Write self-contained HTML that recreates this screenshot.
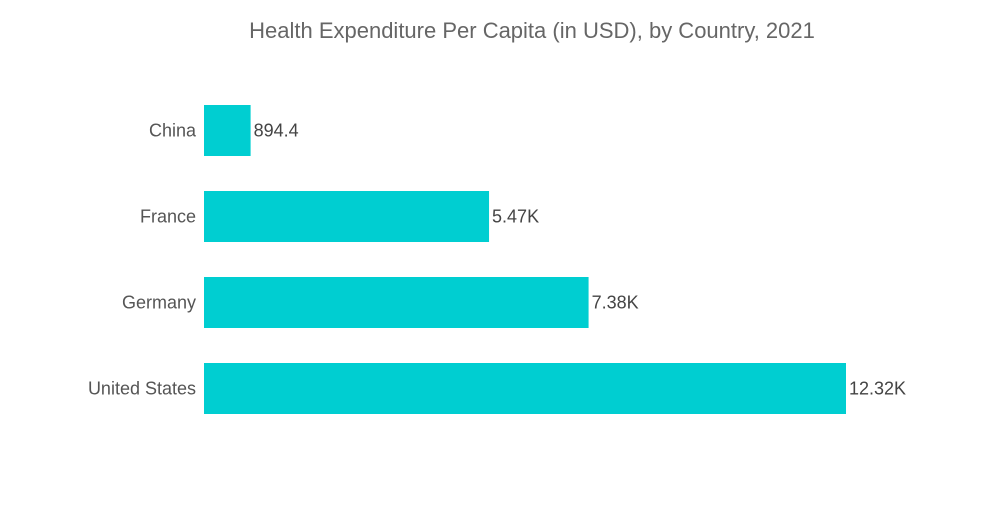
<!DOCTYPE html>
<html><head><meta charset="utf-8"><style>
body{margin:0;background:#fff;font-family:"Liberation Sans",sans-serif}
</style></head><body>
<svg id="chart" width="1000" height="504">
<rect width="1000" height="504" fill="#fff"/>
<text x="532" y="38" text-anchor="middle" font-size="22" fill="#666">Health Expenditure Per Capita (in USD), by Country, 2021</text>
<g id="bars"></g>
</svg>
<script>
const categories = ["China","France","Germany","United States"];
const values = [894.4, 5470, 7380, 12320];
const valueLabels = ["894.4","5.47K","7.38K","12.32K"];
const x0 = 204, xScale = v => x0 + v * (642/12320);
const y0 = 105, band = 86, barH = 51;
const g = document.getElementById('bars');
const ns = "http://www.w3.org/2000/svg";
categories.forEach((c,i)=>{
  const y = y0 + i*band;
  const r = document.createElementNS(ns,'rect');
  r.setAttribute('x',x0); r.setAttribute('y',y);
  r.setAttribute('width',xScale(values[i])-x0); r.setAttribute('height',barH);
  r.setAttribute('fill','#00CED1');
  
  
  g.appendChild(r);
  const t = document.createElementNS(ns,'text');
  t.setAttribute('x',196); t.setAttribute('y',y+barH/2+6);
  t.setAttribute('text-anchor','end'); t.setAttribute('font-size','18'); t.setAttribute('fill','#555');
  t.textContent = c;
  
  
  g.appendChild(t);
  const v = document.createElementNS(ns,'text');
  v.setAttribute('x',xScale(values[i])+3); v.setAttribute('y',y+barH/2+6);
  v.setAttribute('font-size','18'); v.setAttribute('fill','#444');
  v.textContent = valueLabels[i];
  
  
  g.appendChild(v);
});
</script>
</body></html>
